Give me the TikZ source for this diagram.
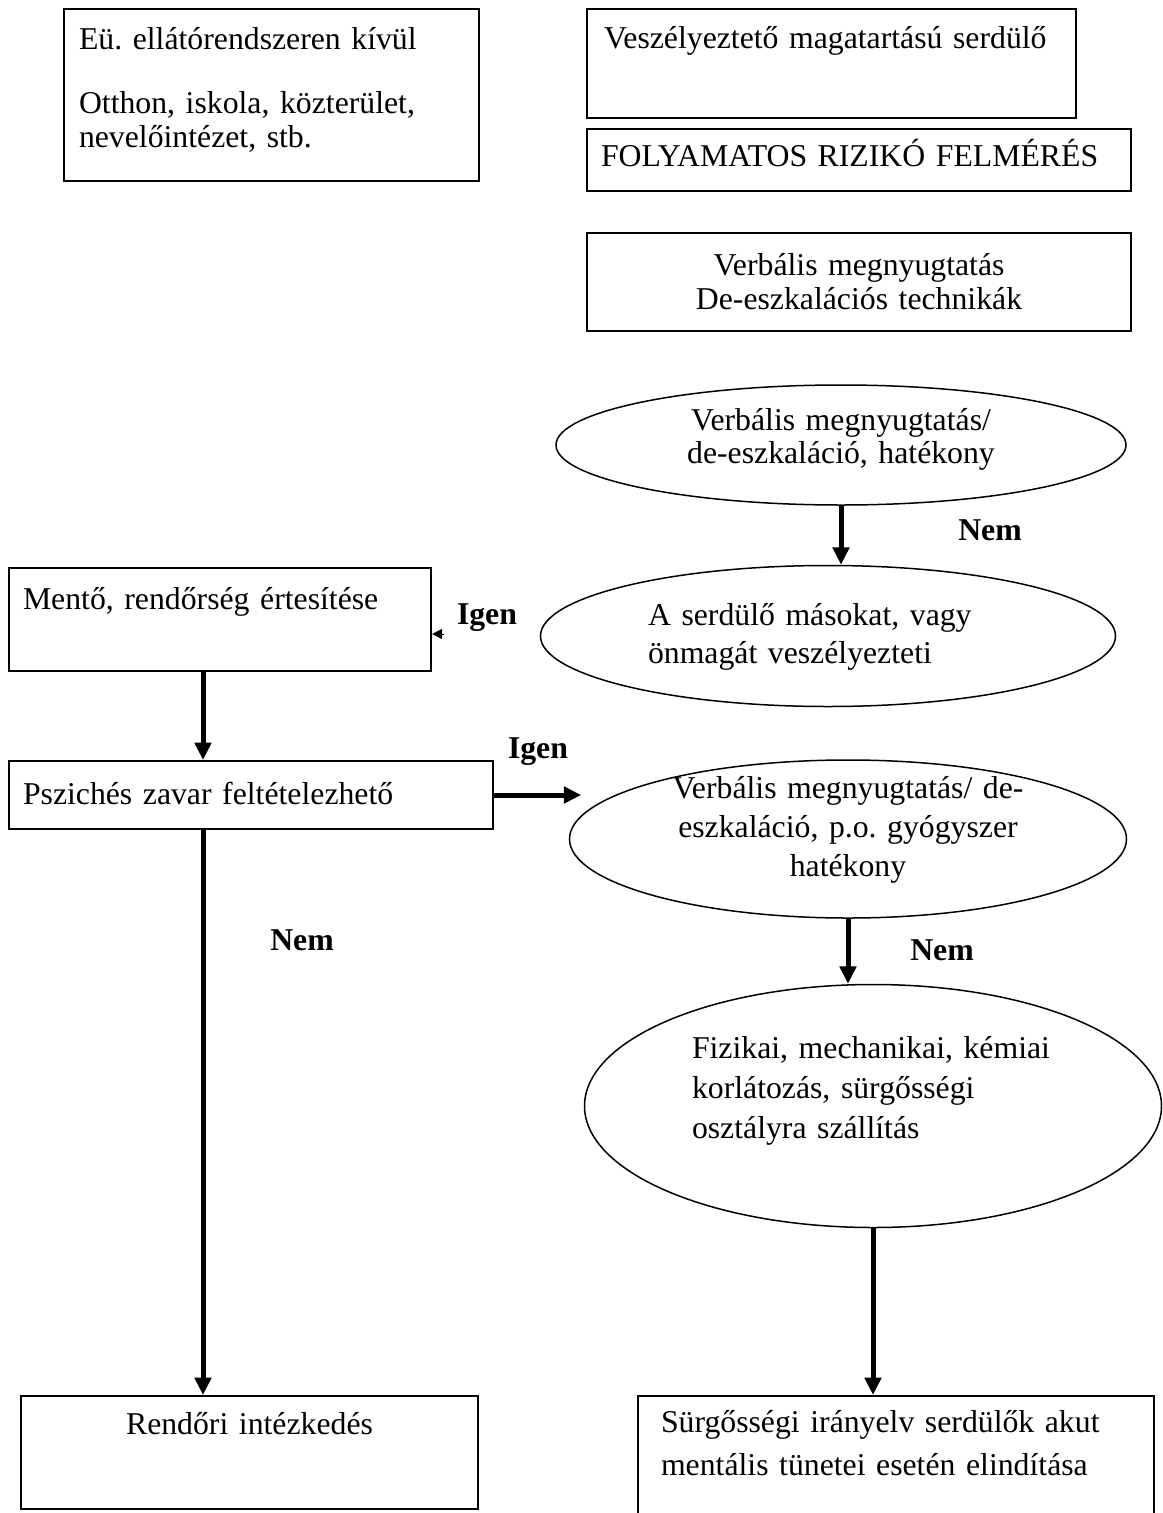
\documentclass[tikz,border=0pt]{standalone}
\usepackage{fontspec}
\setmainfont{Liberation Serif}
\frenchspacing
\usetikzlibrary{shapes.geometric,arrows.meta}

\begin{document}
\begin{tikzpicture}[x=0.4pt, y=-0.4pt,
    every node/.style={font=\fontsize{12.7}{13.6}\selectfont},
    doboz/.style={draw, line width=0.8pt, anchor=north west, align=left, inner ysep=0pt},
    tojas/.style={draw, ellipse, line width=0.6pt, inner sep=0pt},
    nyil/.style={line width=2pt, -{Triangle[length=7pt,width=6.5pt]}},
    valasz/.style={font=\fontsize{12.7}{13.6}\selectfont\bfseries}]
    \clip (0,0) rectangle (1162,1513);

    % Boxes at the top
    \node[doboz, inner xsep=6pt, text width=154pt, text height=16pt, text depth=52.8pt] (ellato) at (63,8)
        {Eü. ellátórendszeren kívül\\[12pt]Otthon, iskola, közterület,\\nevelőintézet, stb.};
    \node[doboz, inner xsep=6.8pt, text width=182pt, text height=15.6pt, text depth=28pt] (veszely) at (586,8)
        {Veszélyeztető magatartású serdülő};
    \node[doboz, inner xsep=5.6pt, text width=206.4pt, text height=14.8pt, text depth=10pt] (rizikó) at (586,128)
        {FOLYAMATOS RIZIKÓ FELMÉRÉS};
    \node[doboz, align=center, inner xsep=0pt, text width=217.6pt, text height=16.8pt, text depth=22.4pt] (technika) at (586,232)
        {Verbális megnyugtatás\\De-eszkalációs technikák};

    % Decisions
    \node[tojas, minimum width=228pt, minimum height=48pt, text width=130pt, align=center,
        text height=4.8pt, text depth=16.8pt, font=\fontsize{12.7}{13.2}\selectfont] (hatekony1) at (841,445)
        {Verbális megnyugtatás/\\de-eszkaláció, hatékony};
    \node[tojas, minimum width=230pt, minimum height=56.4pt, text width=144pt, align=left,
        text height=4pt, text depth=12.8pt, font=\fontsize{12.7}{15.2}\selectfont] (veszelyez) at (828,636)
        {A serdülő másokat, vagy\\önmagát veszélyezteti};
    \node[tojas, minimum width=222.8pt, minimum height=63.2pt, text width=146pt, align=center,
        text height=4pt, text depth=36.8pt, font=\fontsize{12.7}{15.6}\selectfont] (hatekony2) at (848,839)
        {Verbális megnyugtatás/ de-\\eszkaláció, p.o. gyógyszer\\hatékony};
    \node[tojas, minimum width=230.8pt, minimum height=97.2pt, text width=144.8pt, align=left,
        text height=4pt, text depth=42.4pt, font=\fontsize{12.7}{16}\selectfont] (korlat) at (873,1106)
        {Fizikai, mechanikai, kémiai\\korlátozás, sürgősségi\\osztályra szállítás};

    % Left column
    \node[doboz, inner xsep=5.6pt, text width=157.6pt, text height=16.4pt, text depth=24.8pt] (mento) at (8,567)
        {Mentő, rendőrség értesítése};
    \node[doboz, inner xsep=5.6pt, text width=182.4pt, text height=17.2pt, text depth=10pt] (pszich) at (8,760)
        {Pszichés zavar feltételezhető};
    \node[doboz, align=center, inner xsep=0pt, text width=182.8pt, text height=15.2pt, text depth=30pt] (rendori) at (20,1395)
        {Rendőri intézkedés};
    \node[doboz, inner xsep=9.2pt, text width=188pt, text height=14.4pt, text depth=39.6pt,
        font=\fontsize{12.7}{17.2}\selectfont] (surgos) at (637,1395)
        {Sürgősségi irányelv serdülők akut\\mentális tünetei esetén elindítása};

    % Answers
    \node[valasz] (nem1) at (990,530) {Nem};
    \node[valasz] (igen1) at (487,618) {Igen};
    \node[valasz] (igen2) at (538,752) {Igen};
    \node[valasz] (nem2) at (942,950) {Nem};
    \node[valasz] (nem3) at (302,940) {Nem};

    % Arrows
    \draw[nyil] (hatekony1.south) -- (hatekony1.south |- veszelyez.north);
    \coordinate (igenveg) at (444,634);
    \draw[line width=0.4pt, -{Triangle[length=4pt,width=4pt]}] (igenveg) -- (igenveg -| mento.east);
    \draw[nyil] ([xshift=-6.8pt]mento.south) -- ([xshift=-6.8pt]mento.south |- pszich.north);
    \draw[nyil, shorten >=-5pt] (pszich.east) -- (pszich.east -| hatekony2.west);
    \draw[nyil] ([xshift=-19.2pt]pszich.south) -- ([xshift=-19.2pt]pszich.south |- rendori.north);
    \draw[nyil] (hatekony2.south) -- (hatekony2.south |- korlat.north);
    \draw[nyil] (korlat.south) -- (korlat.south |- surgos.north);
\end{tikzpicture}
\end{document}
